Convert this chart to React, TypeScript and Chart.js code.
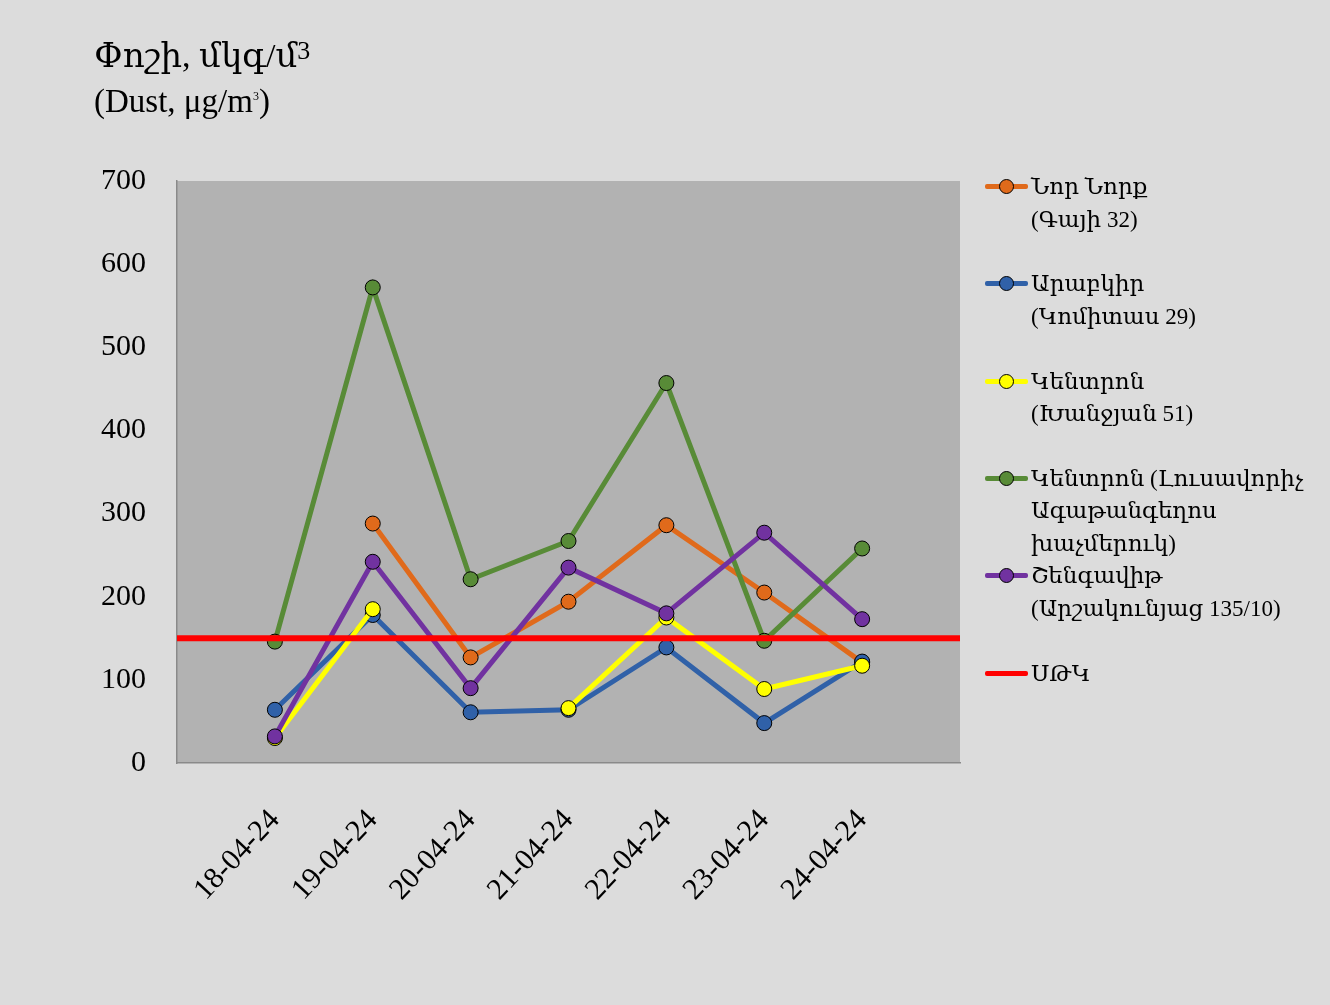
import React, { useEffect, useRef } from 'react';
import { Chart, registerables } from 'chart.js';

Chart.register(...registerables);

// dates of measurement
const dates = ['18-04-24', '19-04-24', '20-04-24', '21-04-24', '22-04-24', '23-04-24', '24-04-24'];

// dust, µg/m3
const norNork = [null, 288, 127, 194, 286, 205, 121];
const arabkir = [64, 178, 61, 64, 139, 48, 122];
const kentronKhanjyan = [30, 185, null, 66, 175, 89, 117];
const kentronLusavorich = [146, 572, 221, 267, 457, 147, 258];
const shengavit = [32, 242, 90, 235, 180, 277, 173];
const limitValue = 150; // ՍԹԿ

const yTicks = [0, 100, 200, 300, 400, 500, 600, 700];

const legendNames = [
    ['Նոր Նորք', '(Գայի 32)'],
    ['Արաբկիր', '(Կոմիտաս 29)'],
    ['Կենտրոն', '(Խանջյան 51)'],
    ['Կենտրոն (Լուսավորիչ', 'Ագաթանգեղոս', 'խաչմերուկ)'],
    ['Շենգավիթ', '(Արշակունյաց 135/10)'],
    ['ՍԹԿ'],
];
const seriesColors = ['#E06A1B', '#3061A8', '#FFFF00', '#588B37', '#7132A0', '#FF0000'];

const serif = '"Liberation Serif", "DejaVu Serif", serif';

// empty slot at each end, as in the original sheet
const labels = ['', ...dates, ''];
const pad = (arr: (number | null)[]) => [null, ...arr, null];

const plotBackground = {
    id: 'plotBackground',
    beforeDraw(chart: any) {
        const { ctx, chartArea } = chart;
        ctx.save();
        ctx.fillStyle = '#b2b2b2';
        ctx.fillRect(chartArea.left, chartArea.top, chartArea.width, chartArea.height);
        ctx.restore();
    },
};

const LegendMarker = ({ color, point }: { color: string; point: boolean }) => (
    <div style={{ position: 'absolute', left: 0, top: 13, width: 43, height: 6 }}>
        <div style={{ position: 'absolute', left: 0, top: 0, width: 43, height: 5, background: color, borderRadius: 2 }} />
        {point && (
            <div
                style={{
                    position: 'absolute',
                    left: 14,
                    top: -5,
                    width: 13,
                    height: 13,
                    borderRadius: '50%',
                    background: color,
                    border: '1px solid #000',
                }}
            />
        )}
    </div>
);

export default function App() {
    const chartRef = useRef<HTMLCanvasElement>(null);
    const chartInstance = useRef<Chart | null>(null);

    useEffect(() => {
        document.body.style.margin = '0';
        document.body.style.background = '#dcdcdc';
        if (!chartRef.current) return;
        const context = chartRef.current.getContext('2d');
        if (chartInstance.current) chartInstance.current.destroy();

        const series = [norNork, arabkir, kentronKhanjyan, kentronLusavorich, shengavit];
        // later series sit on top, the limit line above all
        const orders = [5, 4, 3, 2, 1];

        const datasets: any[] = series.map((values, i) => ({
            label: legendNames[i].join(' '),
            data: pad(values),
            borderColor: seriesColors[i],
            backgroundColor: seriesColors[i],
            pointBackgroundColor: seriesColors[i],
            pointBorderColor: '#000',
            pointBorderWidth: 1,
            pointRadius: 7.5,
            borderWidth: 5,
            spanGaps: false,
            order: orders[i],
        }));
        datasets.push({
            label: legendNames[5].join(' '),
            data: labels.map(() => limitValue),
            borderColor: seriesColors[5],
            backgroundColor: seriesColors[5],
            pointRadius: 0,
            borderWidth: 6,
            order: 0,
        });

        chartInstance.current = new Chart(context!, {
            type: 'line',
            data: { labels, datasets },
            plugins: [plotBackground],
            options: {
                animation: false,
                responsive: true,
                maintainAspectRatio: false,
                layout: { padding: { left: 77, top: 181, right: 370, bottom: 82 } },
                plugins: {
                    legend: { display: false },
                    tooltip: { enabled: false },
                },
                scales: {
                    x: {
                        type: 'category',
                        offset: false,
                        grid: { display: false, drawTicks: false },
                        border: { display: true, color: '#8a8a8a', width: 1.5 },
                        ticks: {
                            autoSkip: false,
                            maxRotation: 47,
                            minRotation: 47,
                            padding: 40,
                            color: '#000',
                            font: { family: serif, size: 30 },
                        },
                        afterFit: (scale: any) => {
                            scale.height = 160;
                        },
                    },
                    y: {
                        min: yTicks[0],
                        max: yTicks[yTicks.length - 1],
                        grid: { display: false, drawTicks: false },
                        border: { display: true, color: '#8a8a8a', width: 1.5 },
                        ticks: {
                            stepSize: yTicks[1] - yTicks[0],
                            padding: 31,
                            color: '#000',
                            font: { family: serif, size: 30 },
                        },
                        afterFit: (scale: any) => {
                            scale.width = 100;
                        },
                    },
                },
            },
        });

        return () => {
            if (chartInstance.current) {
                chartInstance.current.destroy();
                chartInstance.current = null;
            }
        };
    }, []);

    return (
        <div style={{ position: 'relative', width: 1330, height: 1005, background: '#dcdcdc', fontFamily: serif, color: '#000' }}>
            <canvas ref={chartRef} />
            <div style={{ position: 'absolute', left: 94, top: 34, fontSize: 34, lineHeight: '34px', whiteSpace: 'nowrap' }}>
                Փոշի, մկգ/մ<span style={{ fontSize: 26, verticalAlign: 8 }}>3</span>
            </div>
            <div style={{ position: 'absolute', left: 94, top: 80, fontSize: 33, lineHeight: '33px', whiteSpace: 'nowrap' }}>
                (Dust, μg/m<span style={{ fontSize: 12, verticalAlign: 12 }}>3</span>)
            </div>
            {legendNames.map((lines, i) => (
                <div
                    key={i}
                    style={{ position: 'absolute', left: 985, top: 171 + i * 97.3, width: 340 }}
                >
                    <LegendMarker color={seriesColors[i]} point={i < 5} />
                    <div style={{ marginLeft: 46, fontSize: 23, lineHeight: '32.5px', whiteSpace: 'nowrap' }}>
                        {lines.map((t, j) => (
                            <div key={j}>{t}</div>
                        ))}
                    </div>
                </div>
            ))}
        </div>
    );
}
